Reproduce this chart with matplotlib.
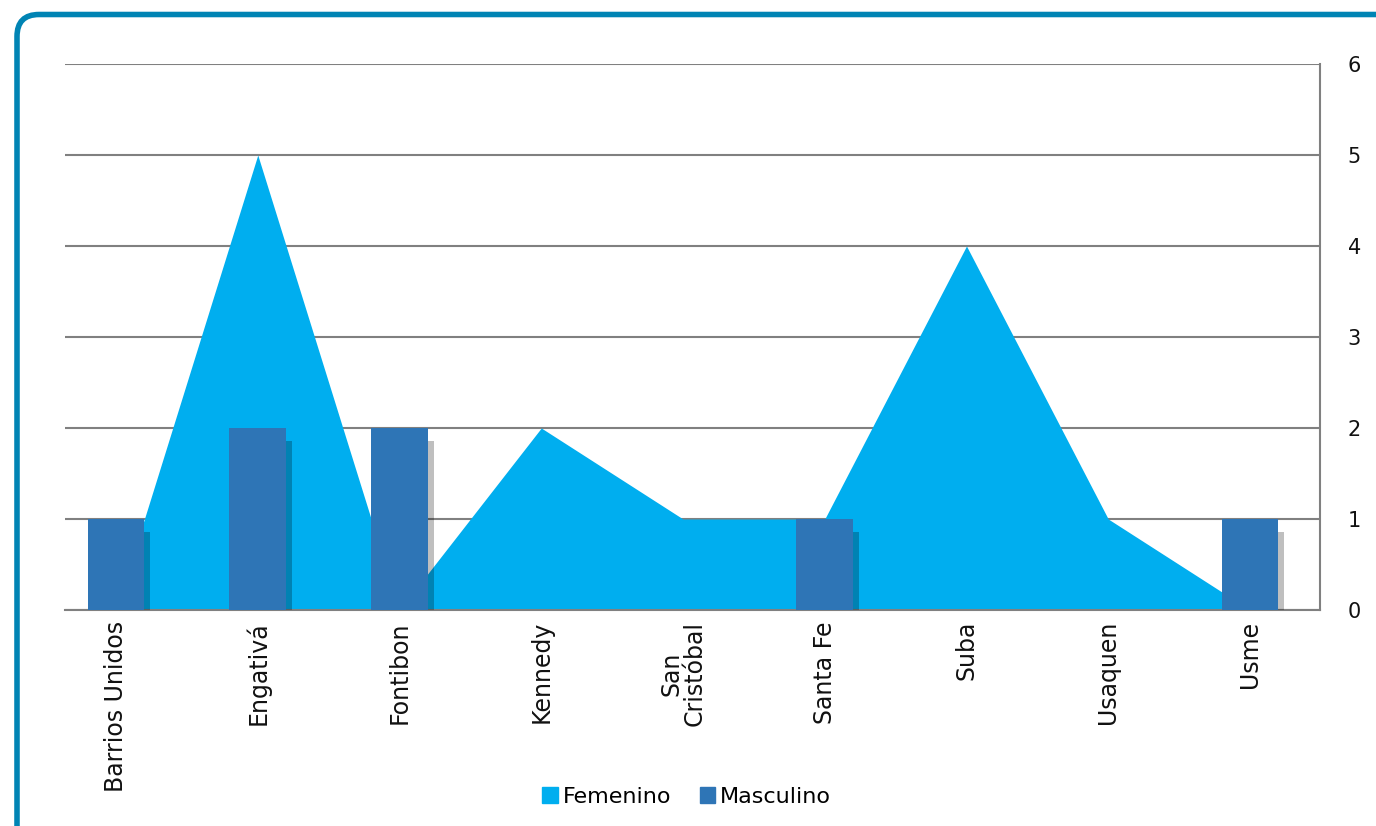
import numpy as np
import matplotlib
matplotlib.use("Agg")
import matplotlib.pyplot as plt
from matplotlib.patches import FancyBboxPatch, Patch

# datos
barrios = ["Barrios Unidos", "Engativá", "Fontibon", "Kennedy", "San\nCristóbal",
           "Santa Fe", "Suba", "Usaquen", "Usme"]
femenino = [0, 5, 0, 2, 1, 1, 4, 1, 0]
masculino = [1, 2, 2, 0, 0, 1, 0, 0, 1]

c_fem = "#00AEEF"
c_mas = "#2E75B6"
c_grid = "#808080"

plt.rcParams['font.family'] = ['DejaVu Sans']
fig = plt.figure(figsize=(13.76, 8.26), dpi=100)

# marco redondeado (en pulgadas)
borde = FancyBboxPatch((0.17, -1.0), 15.0, 8.26 - 0.145 + 1.0,
                       boxstyle="round,pad=0,rounding_size=0.22",
                       transform=fig.dpi_scale_trans, fill=False,
                       edgecolor="#0084B4", linewidth=4.0, clip_on=False)
fig.patches.append(borde)

ax = fig.add_axes([65/1376, 1-610/826, (1320-65)/1376, (610-64)/826])
x = np.arange(len(barrios))

ax.fill_between(x, femenino, 0, color=c_fem, linewidth=0, zorder=2)
# sombra de las barras
sx = 6/141.75
ax.bar(x + sx, np.array(masculino) - 0.14 * (np.array(masculino) > 0), width=0.40,
       bottom=0, color="black", alpha=0.25, linewidth=0, zorder=3)
ax.bar(x, masculino, width=0.40, color=c_mas, linewidth=0, zorder=4)

ax.set_xlim(-0.36, 8.494)
ax.set_ylim(0, 6)
ax.set_yticks(range(7))
ax.yaxis.tick_right()
ax.tick_params(axis='y', length=0, pad=20, labelsize=15, labelcolor="#111111")
ax.set_xticks(x)
ax.set_xticklabels(barrios, rotation=90, fontsize=17, color="#111111",
                   ha="center", va="top", linespacing=0.95)
ax.tick_params(axis='x', length=0, pad=8)
ax.grid(axis='y', color=c_grid, linewidth=1.5, zorder=1)
ax.set_axisbelow(True)
for s in ["left", "top"]:
    ax.spines[s].set_visible(False)
ax.spines["right"].set_color(c_grid)
ax.spines["right"].set_linewidth(1.5)
ax.spines["bottom"].set_color(c_grid)
ax.spines["bottom"].set_linewidth(1.5)

handles = [Patch(color=c_fem, label="Femenino"), Patch(color=c_mas, label="Masculino")]
fig.legend(handles=handles, loc="center", bbox_to_anchor=(0.499, 1-797/826), ncol=2,
           frameon=False, fontsize=16, handlelength=0.7, handleheight=0.7,
           handletextpad=0.2, columnspacing=1.3)

fig.savefig("out.png", dpi=100)
